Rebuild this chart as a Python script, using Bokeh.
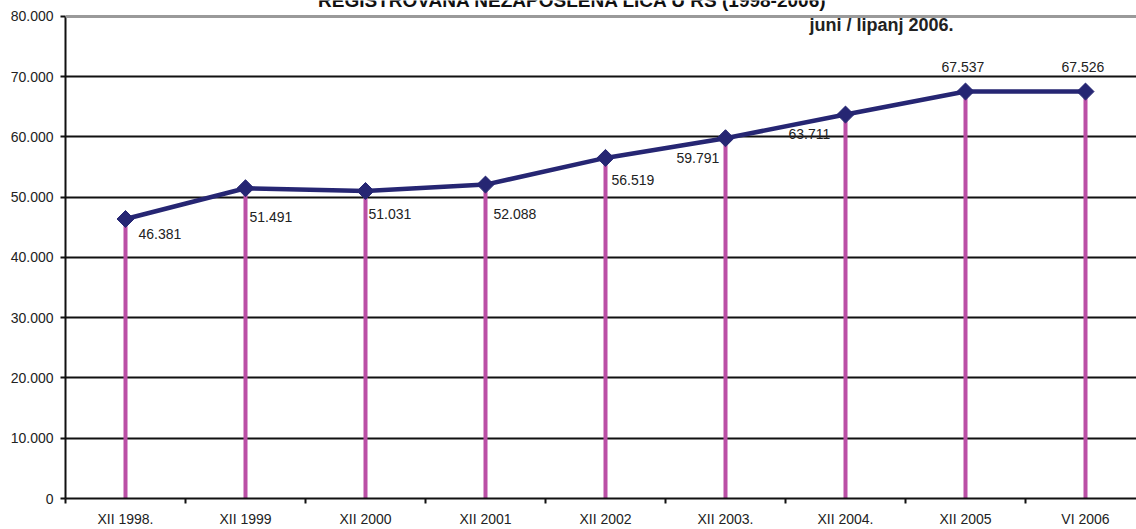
import math
from bokeh.plotting import figure
from bokeh.models import Range1d, FixedTicker, Span, Label, LabelSet, ColumnDataSource
from bokeh.core.properties import value
from bokeh.embed import file_html
from bokeh.resources import INLINE

# ---- data ----
categories = ["XII 1998.", "XII 1999", "XII 2000", "XII 2001", "XII 2002",
              "XII 2003.", "XII 2004.", "XII 2005", "VI 2006"]
values = [46381, 51491, 51031, 52088, 56519, 59791, 63711, 67537, 67526]
value_labels = ["46.381", "51.491", "51.031", "52.088", "56.519",
                "59.791", "63.711", "67.537", "67.526"]
y_ticks = [0, 10000, 20000, 30000, 40000, 50000, 60000, 70000, 80000]
y_tick_labels = ["0", "10.000", "20.000", "30.000", "40.000",
                 "50.000", "60.000", "70.000", "80.000"]
title_text = "REGISTROVANA NEZAPOSLENA LICA U RS  (1998-2006)"
subtitle_text = "juni / lipanj 2006."

# label placement (pixels, right / down relative to the point)
label_dx = [13, 4, 3, 8, 6, -49, -57, -24, -24]
label_dy = [15, 29, 23, 29, 22, 20, 19, -25, -25]

xs = list(range(len(categories)))
FONT = "Liberation Sans"
NAVY = "#262673"
MAGENTA = "#bb4fa6"
TXT = "#222222"

# frame spans the full height above the x axis; the top strip holds the title
y_top = y_ticks[-1] * 501 / 485

p = figure(width=1136, height=529, output_backend="svg", toolbar_location=None,
           x_range=Range1d(-0.5, 8.425), y_range=Range1d(0, y_top),
           min_border_left=65, min_border_right=0, min_border_top=0,
           min_border_bottom=28)
p.outline_line_color = None
p.background_fill_color = "white"

# grid
p.xgrid.visible = False
p.ygrid.ticker = FixedTicker(ticks=y_ticks[1:-1])
p.ygrid.grid_line_color = "#111111"
p.ygrid.grid_line_width = 2
p.add_layout(Span(location=y_ticks[-1], dimension="width",
                  line_color="#9a9a9a", line_width=3))

# y axis
p.yaxis.bounds = (y_ticks[0], y_ticks[-1])
p.yaxis.ticker = FixedTicker(ticks=y_ticks)
p.yaxis.major_label_overrides = {t: l for t, l in zip(y_ticks, y_tick_labels)}
p.yaxis.axis_line_color = "#111111"
p.yaxis.axis_line_width = 2
p.yaxis.major_tick_line_color = "#111111"
p.yaxis.major_tick_line_width = 2
p.yaxis.major_tick_out = 5
p.yaxis.major_tick_in = 0
p.yaxis.minor_tick_line_color = None
p.yaxis.major_label_standoff = 7
p.yaxis.major_label_text_font = FONT
p.yaxis.major_label_text_font_size = "14px"
p.yaxis.major_label_text_color = TXT

# x axis
p.xaxis.ticker = FixedTicker(ticks=xs, minor_ticks=[x - 0.5 for x in xs] + [len(xs) - 0.5])
p.xaxis.major_label_overrides = {x: c for x, c in zip(xs, categories)}
p.xaxis.axis_line_color = "#111111"
p.xaxis.axis_line_width = 2
p.xaxis.major_tick_line_color = None
p.xaxis.major_tick_out = 0
p.xaxis.major_tick_in = 0
p.xaxis.minor_tick_line_color = "#111111"
p.xaxis.minor_tick_line_width = 2
p.xaxis.minor_tick_out = 5
p.xaxis.minor_tick_in = 0
p.xaxis.major_label_standoff = 7
p.xaxis.major_label_text_font = FONT
p.xaxis.major_label_text_font_size = "14px"
p.xaxis.major_label_text_color = TXT

# bars (drop lines)
p.segment(x0=xs, y0=[0] * len(xs), x1=xs, y1=values,
          line_color=MAGENTA, line_width=4)

# line + markers
p.line(xs, values, line_color=NAVY, line_width=4.5)
p.scatter(xs, values, marker="square", angle=math.pi / 4, size=12,
          fill_color=NAVY, line_color=NAVY)

# value labels
src = ColumnDataSource(dict(x=xs, y=values, label=value_labels,
                            dx=label_dx, dy=[-d for d in label_dy]))
p.add_layout(LabelSet(x="x", y="y", text="label", source=src,
                      x_offset="dx", y_offset="dy",
                      text_font=value(FONT), text_font_size="14px",
                      text_color=TXT, text_baseline="middle",
                      text_align="left"))

# titles
p.add_layout(Label(x=3.75, y=y_ticks[-1], y_offset=16, text=title_text,
                   text_font=FONT, text_font_size="19px", text_font_style="bold",
                   text_color="#111111", text_align="center",
                   text_baseline="alphabetic"))
p.add_layout(Label(x=6.3, y=y_ticks[-1], y_offset=-9, text=subtitle_text,
                   text_font=FONT, text_font_size="18px", text_font_style="bold",
                   text_color=TXT, text_align="center",
                   text_baseline="middle"))

open("out.html", "w").write(file_html(p, INLINE))
